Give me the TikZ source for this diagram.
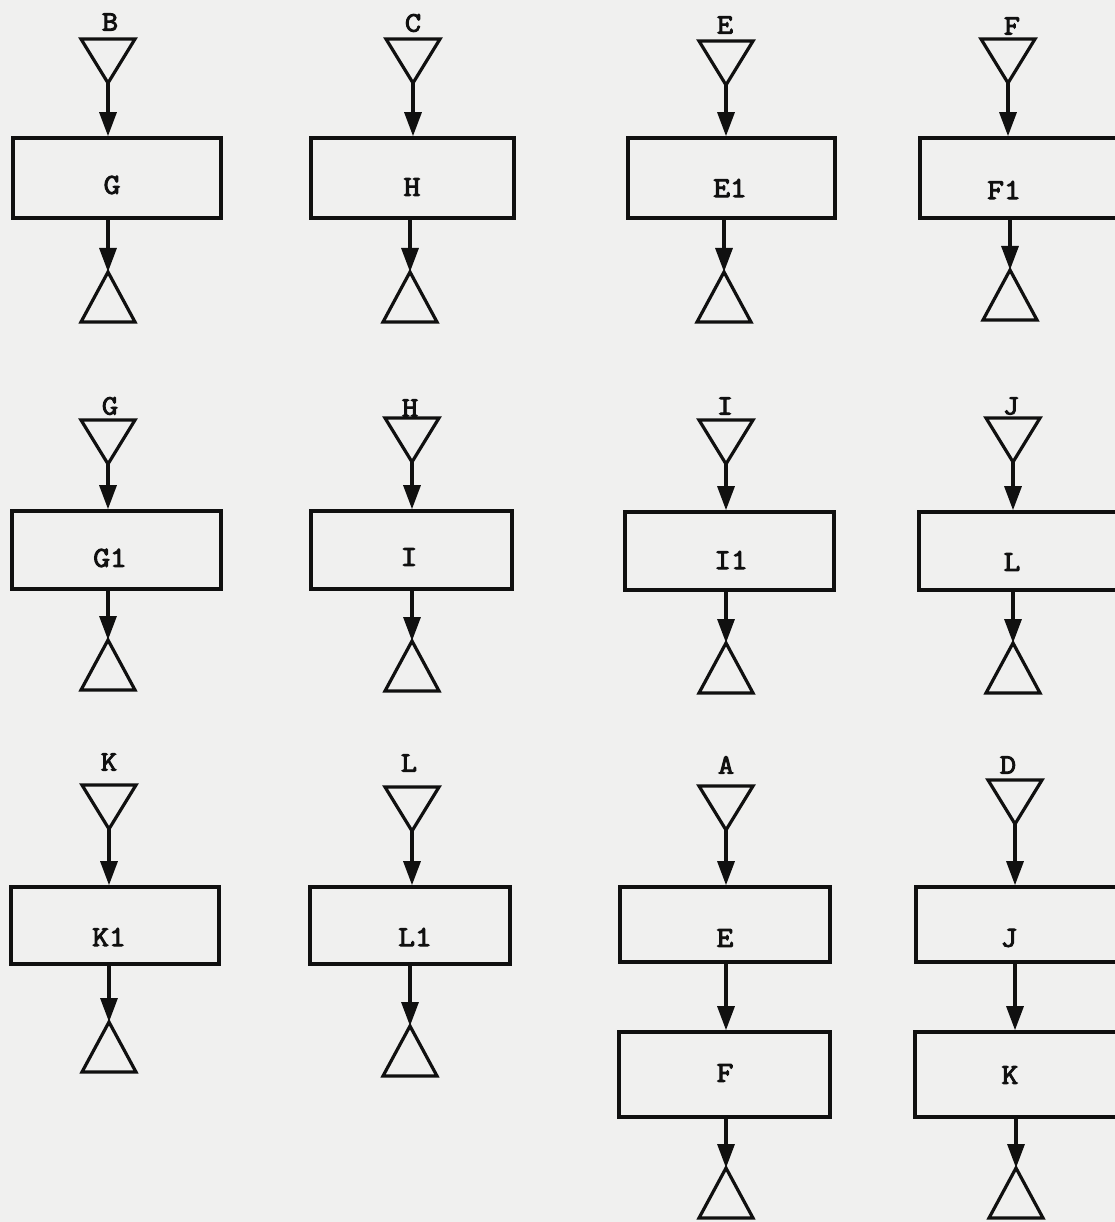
\documentclass[tikz,border=0pt]{standalone}
\usepackage{fontspec}
\newfontfamily\typew{Latin Modern Mono}[FakeBold=3.5,FakeStretch=1.12]
\usetikzlibrary{arrows.meta}
\definecolor{paper}{RGB}{240,240,239}
\definecolor{ink}{RGB}{16,16,16}
\newcommand{\inport}[6]{%
  \coordinate (#1) at (#2,#3);
  \draw[tri] (#1) -- ++(-27,-44) -- ++(54,0) -- cycle;
  \node[lbl] (#1l) at (#5,#6) {#4};}
\newcommand{\outport}[3]{%
  \coordinate (#1) at (#2,#3);
  \draw[tri] (#1) -- ++(-27,50) -- ++(54,0) -- cycle;}
\begin{document}
\begin{tikzpicture}[x=1pt,y=-1pt,
  tri/.style={draw=ink, line width=3.2pt, line join=miter},
  box/.style={draw=ink, line width=3.6pt, rectangle, inner sep=0pt},
  txt/.style={font=\typew\fontsize{29}{29}\selectfont, text=ink, inner sep=0pt},
  lbl/.style={font=\typew\fontsize{28}{28}\selectfont, text=ink, inner sep=0pt},
  conn/.style={draw=ink, line width=3.2pt, -{Triangle[length=24pt,width=17pt]}}]
\fill[paper] (0,0) rectangle (1115,1222);
\useasboundingbox (0,0) rectangle (1115,1222);
\clip (0,0) rectangle (1115,1222);

% ---------------- row 1 ----------------
\inport{iB}{108}{83}{B}{110}{22}
\node[box, minimum width=208pt, minimum height=80pt] (bG) at (117,178) {};
\node[txt] (tG) at (112,185) {G};
\outport{oG}{108}{272}
\draw[conn] (iB) -- (iB |- bG.north);
\draw[conn] (oG |- bG.south) -- (oG);

\inport{iC}{413}{83}{C}{413}{23}
\node[box, minimum width=203pt, minimum height=80pt] (bH) at (412.5,178) {};
\node[txt] (tH) at (412,187) {H};
\outport{oH}{410}{272}
\draw[conn] (iC) -- (iC |- bH.north);
\draw[conn] (oH |- bH.south) -- (oH);

\inport{iE}{726}{85}{E}{725}{25}
\node[box, minimum width=207pt, minimum height=80pt] (bE1) at (731.5,178) {};
\node[txt] (tE1) at (730,188) {E1};
\outport{oE1}{724}{272}
\draw[conn] (iE) -- (iE |- bE1.north);
\draw[conn] (oE1 |- bE1.south) -- (oE1);

\inport{iF}{1008}{83}{F}{1012}{26}
\node[box, minimum width=208pt, minimum height=80pt] (bF1) at (1024,178) {};
\node[txt] (tF1) at (1004,190) {F1};
\outport{oF1}{1010}{270}
\draw[conn] (iF) -- (iF |- bF1.north);
\draw[conn] (oF1 |- bF1.south) -- (oF1);

% ---------------- row 2 ----------------
\inport{iG}{108}{464}{G}{110}{406}
\node[box, minimum width=209pt, minimum height=78pt] (bG1) at (116.5,550) {};
\node[txt] (tG1) at (110,558) {G1};
\outport{oG1}{108}{640}
\draw[conn] (iG) -- (iG |- bG1.north);
\draw[conn] (oG1 |- bG1.south) -- (oG1);

\inport{iH}{412}{462}{H}{410}{408}
\node[box, minimum width=201pt, minimum height=78pt] (bI) at (411.5,550) {};
\node[txt] (tI) at (409,557) {I};
\outport{oI}{412}{641}
\draw[conn] (iH) -- (iH |- bI.north);
\draw[conn] (oI |- bI.south) -- (oI);

\inport{iI}{726}{464}{I}{725}{406}
\node[box, minimum width=209pt, minimum height=78pt] (bI1) at (729.5,551) {};
\node[txt] (tI1) at (731,560) {I1};
\outport{oI1}{726}{643}
\draw[conn] (iI) -- (iI |- bI1.north);
\draw[conn] (oI1 |- bI1.south) -- (oI1);

\inport{iJ}{1013}{462}{J}{1011}{406}
\node[box, minimum width=208pt, minimum height=78pt] (bL) at (1023,551) {};
\node[txt] (tL) at (1012,562) {L};
\outport{oL}{1013}{643}
\draw[conn] (iJ) -- (iJ |- bL.north);
\draw[conn] (oL |- bL.south) -- (oL);

% ---------------- row 3 ----------------
\inport{iK}{109}{829}{K}{109}{762}
\node[box, minimum width=208pt, minimum height=77pt] (bK1) at (115,925.5) {};
\node[txt] (tK1) at (109,937) {K1};
\outport{oK1}{109}{1022}
\draw[conn] (iK) -- (iK |- bK1.north);
\draw[conn] (oK1 |- bK1.south) -- (oK1);

\inport{iL}{412}{831}{L}{409}{763}
\node[box, minimum width=200pt, minimum height=77pt] (bL1) at (410,925.5) {};
\node[txt] (tL1) at (415,937) {L1};
\outport{oL1}{410}{1026}
\draw[conn] (iL) -- (iL |- bL1.north);
\draw[conn] (oL1 |- bL1.south) -- (oL1);

\inport{iA}{726}{830}{A}{726}{765}
\node[box, minimum width=210pt, minimum height=75pt] (bE) at (725,924.5) {};
\node[txt] (tE) at (725,938) {E};
\node[box, minimum width=211pt, minimum height=85pt] (bF) at (724.5,1074.5) {};
\node[txt] (tF) at (725,1073) {F};
\outport{oF}{726}{1168}
\draw[conn] (iA) -- (iA |- bE.north);
\draw[conn] (iA |- bE.south) -- (iA |- bF.north);
\draw[conn] (oF |- bF.south) -- (oF);

\inport{iD}{1015}{824}{D}{1008}{765}
\node[box, minimum width=208pt, minimum height=75pt] (bJ) at (1020,924.5) {};
\node[txt] (tJ) at (1009,938) {J};
\node[box, minimum width=209pt, minimum height=85pt] (bK) at (1019.5,1074.5) {};
\node[txt] (tK) at (1010,1075) {K};
\outport{oK}{1016}{1168}
\draw[conn] (iD) -- (iD |- bJ.north);
\draw[conn] (iD |- bJ.south) -- (iD |- bK.north);
\draw[conn] (oK |- bK.south) -- (oK);
\end{tikzpicture}
\end{document}
